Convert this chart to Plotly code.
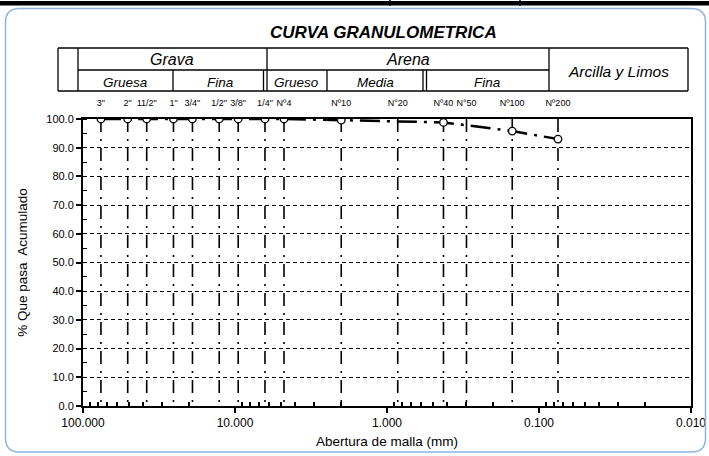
import plotly.graph_objects as go

# ---------------- data ----------------
sieve_labels = ['3"', '2"', '11/2"', '1"', '3/4"', '1/2"', '3/8"', '1/4"', 'Nº4',
                'Nº10', 'N°20', 'Nº40', 'N°50', 'Nº100', 'Nº200']
sieve_mm = [76.2, 50.8, 38.1, 25.4, 19.05, 12.7, 9.525, 6.35, 4.76,
            2.0, 0.85, 0.425, 0.3, 0.15, 0.075]
pct_passing = [100.0, 100.0, 100.0, 100.0, 100.0, 100.0, 100.0, 100.0, 100.0,
               99.6, None, 98.8, None, 95.8, 93.0]

x_tick_vals = [100, 10, 1, 0.1, 0.01]
x_tick_text = ["100.000", "10.000", "1.000", "0.100", "0.010"]
y_tick_vals = [0, 10, 20, 30, 40, 50, 60, 70, 80, 90, 100]
y_tick_text = ["%.1f" % v for v in y_tick_vals]
x_minor_vals = [m * d for d in [10, 1, 0.1, 0.01] for m in range(2, 10)]

# ---------------- layout geometry ----------------
W, H = 709, 456
L, R, T, B = 83, 691, 119, 406
FONT = "Liberation Sans, Arial, sans-serif"


def PX(x):
    return (x - L) / (R - L)


def PY(y):
    return (B - y) / (B - T)


fig = go.Figure()

# vertical sieve lines
vx, vy = [], []
for s in sieve_mm:
    vx += [s, s, None]
    vy += [100, 0, None]
fig.add_trace(go.Scatter(x=vx, y=vy, mode="lines", hoverinfo="skip",
                         line=dict(color="black", width=1.6, dash="13px,7px,2px,7px"),
                         showlegend=False))

# grading curve
fig.add_trace(go.Scatter(x=sieve_mm, y=pct_passing, mode="lines+markers",
                         connectgaps=True, showlegend=False,
                         line=dict(color="black", width=2.5, dash="20px,7px,3px,7px"),
                         marker=dict(symbol="circle", size=7.5, color="white",
                                     line=dict(color="black", width=1.3))))

# dummy trace for top axis
fig.add_trace(go.Scatter(x=[sieve_mm[0]], y=[None], xaxis="x2", showlegend=False,
                         hoverinfo="skip"))

fig.update_layout(
    width=W, height=H,
    margin=dict(l=L, r=W - R, t=T, b=H - B),
    paper_bgcolor="white", plot_bgcolor="white",
    font=dict(family=FONT, color="black"),
    xaxis=dict(type="log", range=[2, -2], tickmode="array", automargin=False,
               tickvals=x_tick_vals, ticktext=x_tick_text,
               tickfont=dict(size=12), ticks="outside", ticklen=5,
               tickcolor="black", tickwidth=1.5,
               showline=True, linecolor="black", linewidth=2, mirror=True,
               showgrid=False, zeroline=False,
               minor=dict(tickmode="array", tickvals=x_minor_vals, ticks="inside",
                          ticklen=4, tickcolor="black", tickwidth=1.5, showgrid=False),
               title=dict(text="Abertura de malla (mm)", font=dict(size=13.5), standoff=7)),
    xaxis2=dict(type="log", range=[2, -2], overlaying="x", side="top", automargin=False,
                tickmode="array", tickvals=sieve_mm, ticktext=sieve_labels,
                tickfont=dict(size=9), ticks="outside", ticklen=8,
                tickcolor="rgba(0,0,0,0)", showline=False, showgrid=False,
                zeroline=False),
    yaxis=dict(range=[0, 100], tickmode="array", tickvals=y_tick_vals, automargin=False,
               ticktext=y_tick_text, tickfont=dict(size=11),
               ticks="outside", ticklen=5, tickcolor="black", tickwidth=1.5,
               showline=True, linecolor="black", linewidth=2, mirror=True,
               showgrid=True, gridcolor="black", gridwidth=1, griddash="4px,3px",
               zeroline=False,
               minor=dict(dtick=5, tick0=0, ticks="inside", ticklen=4,
                          tickcolor="black", tickwidth=1.2, showgrid=False),
               title=dict(text="% Que pasa  Acumulado", font=dict(size=13.5), standoff=16)),
)

shapes = []


def line(x0, y0, x1, y1, w=1.3, c="black"):
    shapes.append(dict(type="line", xref="paper", yref="paper",
                       x0=PX(x0), y0=PY(y0), x1=PX(x1), y1=PY(y1),
                       line=dict(color=c, width=w)))


# top black band (from sheet above)
shapes.append(dict(type="rect", xref="paper", yref="paper",
                   x0=PX(0), x1=PX(W), y0=PY(1), y1=PY(5.5),
                   fillcolor="black", line=dict(width=0)))
line(390, 0, 390, 6, w=1.5)
line(520, 0, 520, 6, w=1.5)

# rounded chart-area border
bl, bt, br, bb, rr = 5.5, 8.5, 705.5, 452, 14
pts = [
    ("M", bl, bt + rr), ("Q", bl, bt, bl + rr, bt), ("L", br - rr, bt),
    ("Q", br, bt, br, bt + rr), ("L", br, bb - rr), ("Q", br, bb, br - rr, bb),
    ("L", bl + rr, bb), ("Q", bl, bb, bl, bb - rr),
]
path = ""
for p in pts:
    cmd = p[0]
    coords = p[1:]
    s = cmd
    for i in range(0, len(coords), 2):
        s += " %.5f,%.5f" % (PX(coords[i]), PY(coords[i + 1]))
    path += s + " "
path += "Z"
shapes.append(dict(type="path", xref="paper", yref="paper", path=path,
                   line=dict(color="#8DB3E2", width=1.5)))

# header table
line(58, 48, 688, 48)
line(58, 91, 688, 91)
line(58, 48, 58, 91)
line(688, 48, 688, 91)
line(78, 48, 78, 91)
line(78, 70, 549, 70)
line(267, 48, 267, 91)
line(263.5, 70, 263.5, 91)
line(173, 70, 173, 91)
line(327, 70, 327, 91)
line(423, 70, 423, 91)
line(426.5, 70, 426.5, 91)
line(549, 48, 549, 91)

fig.update_layout(shapes=shapes)

ann = []


def text(x, y, t, size, bold=False):
    ann.append(dict(xref="paper", yref="paper", x=PX(x), y=PY(y),
                    xanchor="center", yanchor="middle", showarrow=False,
                    text=("<b><i>%s</i></b>" % t) if bold else ("<i>%s</i>" % t),
                    font=dict(size=size, family=FONT, color="black")))


text(383, 32, "CURVA GRANULOMETRICA", 17, bold=True)
text(172, 60, "Grava", 16)
text(408, 60, "Arena", 16)
text(125, 83, "Gruesa", 13.5)
text(220, 83, "Fina", 13.5)
text(296, 83, "Grueso", 13.5)
text(375, 83, "Media", 13.5)
text(487, 83, "Fina", 13.5)
text(618, 71, "Arcilla y Limos", 15.5)

fig.update_layout(annotations=ann)

fig.write_html("out.html", config={"displayModeBar": False},
               post_script="document.body.style.margin='0';document.body.style.padding='0';")
